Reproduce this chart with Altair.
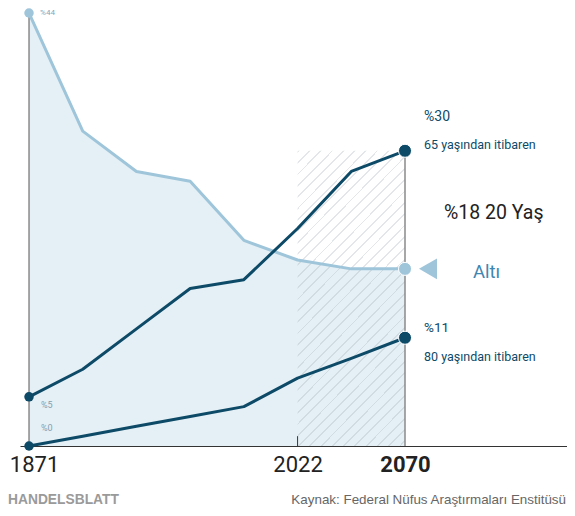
import altair as alt
import pandas as pd

# ---- data ----
idx = [0, 1, 2, 3, 4, 5, 6, 7]
tick_pos = [0, 5, 7]
tick_labels = ["1871", "2022", "2070"]
under20 = [44, 32, 27.9, 26.9, 20.9, 18.9, 18, 18]
over65 = [5, 7.8, 11.9, 16.0, 16.9, 22.1, 27.9, 30]
over80 = [0, 1.0, 2.0, 3.0, 4.0, 6.9, 8.9, 11]
forecast_start, forecast_end = 5, 7

DARK = "#0d4a67"
LIGHT = "#9ec5da"
AREA = "#e5f0f6"

df = pd.DataFrame({"i": idx, "u20": under20, "o65": over65, "o80": over80})
long = pd.concat([
    pd.DataFrame({"i": idx, "v": under20, "s": "u20"}),
    pd.DataFrame({"i": idx, "v": over65, "s": "o65"}),
    pd.DataFrame({"i": idx, "v": over80, "s": "o80"}),
])

xs = alt.Scale(domain=[-0.168, 10.016], nice=False, zero=False)
ys = alt.Scale(domain=[0, 44.51], nice=False, zero=True)

label_expr = " : ".join(
    [f"datum.value == {p} ? '{l}'" for p, l in zip(tick_pos[:-1], tick_labels[:-1])]
) + f" : '{tick_labels[-1]}'"

xaxis = alt.Axis(
    values=tick_pos, labelExpr=label_expr, grid=False, ticks=False,
    domainColor="#333", domainWidth=1, title=None,
    labelFont="Roboto", labelFontSize=22, labelColor="#222",
    labelPadding=8,
    labelOffset={"condition": {"test": f"datum.value == {tick_pos[0]}", "value": 5}, "value": 0},
    labelFontWeight={"condition": {"test": f"datum.value == {tick_pos[-1]}", "value": "bold"}, "value": "normal"},
)

base = alt.Chart(df)

area = base.mark_area(color=AREA, opacity=1).encode(
    x=alt.X("i:Q", scale=xs, axis=xaxis),
    y=alt.Y("u20:Q", scale=ys, axis=None),
)

# hatch via hard-stop gradient (styling only)
w_px, h_px = 108.0, 294.0
period_px = 8.0
stripe_px = 1.3
dn = w_px * (1 + (h_px / w_px) ** 2)
p = period_px * 2 ** 0.5 / dn
s = stripe_px * 2 ** 0.5 / dn
clear = "rgba(255,255,255,0)"
gray = "rgba(150,162,170,0.26)"
stops = []
k = 0
while k * p < 0.5:
    a, b = k * p, k * p + s
    stops += [alt.GradientStop(offset=a, color=clear), alt.GradientStop(offset=a, color=gray),
              alt.GradientStop(offset=b, color=gray), alt.GradientStop(offset=b, color=clear)]
    k += 1
stops.append(alt.GradientStop(offset=1, color=clear))
grad = alt.LinearGradient(gradient="linear", stops=stops, x1=0, y1=0, x2=1, y2=h_px / w_px)

hatch_df = pd.DataFrame({"x1": [forecast_start], "x2": [forecast_end], "y1": [0], "y2": [over65[-1]]})
hatch = alt.Chart(hatch_df).mark_rect(fill=grad, strokeWidth=0).encode(
    x=alt.X("x1:Q", scale=xs), x2="x2:Q", y=alt.Y("y1:Q", scale=ys), y2="y2:Q"
)

rules_df = pd.DataFrame({"x": [0, 7], "y": [0, 0], "y2": [under20[0], over65[-1]]})
rules = alt.Chart(rules_df).mark_rule(color="#8a8a8a", strokeWidth=1.5).encode(
    x=alt.X("x:Q", scale=xs), y=alt.Y("y:Q", scale=ys), y2="y2:Q"
)
tick_df = pd.DataFrame({"x": [forecast_start], "y": [0], "y2": [1.0]})
tick = alt.Chart(tick_df).mark_rule(color="#333", strokeWidth=1).encode(
    x=alt.X("x:Q", scale=xs), y=alt.Y("y:Q", scale=ys), y2="y2:Q"
)

cscale = alt.Scale(domain=["u20", "o65", "o80"], range=[LIGHT, DARK, DARK])

lines = alt.Chart(long).mark_line(strokeWidth=3, strokeJoin="round").encode(
    x=alt.X("i:Q", scale=xs), y=alt.Y("v:Q", scale=ys),
    color=alt.Color("s:N", scale=cscale, legend=None),
    detail="s:N",
)

start = long[long.i == 0]
end = long[long.i == 7]
pts_start = alt.Chart(start).mark_circle(size=90, opacity=1).encode(
    x=alt.X("i:Q", scale=xs), y=alt.Y("v:Q", scale=ys),
    color=alt.Color("s:N", scale=cscale, legend=None),
)
pts_end = alt.Chart(end).mark_circle(size=170, opacity=1, stroke="white", strokeWidth=1).encode(
    x=alt.X("i:Q", scale=xs), y=alt.Y("v:Q", scale=ys),
    color=alt.Color("s:N", scale=cscale, legend=None),
)

tri_df = pd.DataFrame({"x": [7], "y": [under20[-1]]})
tri = alt.Chart(tri_df).mark_point(shape="triangle-left", filled=True, size=430, opacity=1,
                                   color=LIGHT, xOffset=23).encode(
    x=alt.X("x:Q", scale=xs), y=alt.Y("y:Q", scale=ys)
)

FONT = "Roboto"

def label(text, x, y, dx, dy, size, color, weight="normal", align="left"):
    d = pd.DataFrame({"x": [x], "y": [y], "t": [text]})
    return alt.Chart(d).mark_text(align=align, baseline="middle", dx=dx, dy=dy, fontSize=size,
                                  color=color, font=FONT, fontWeight=weight).encode(
        x=alt.X("x:Q", scale=xs), y=alt.Y("y:Q", scale=ys), text="t:N"
    )

labels = [
    label(f"%{under20[0]}", 0, under20[0], 11, 0, 8, "#7fa8bf"),
    label(f"%{over65[0]}", 0, over65[0], 12, 8, 9, "#7fa0b4"),
    label(f"%{over80[0]}", 0, over80[0], 12, -18, 9, "#7fa0b4"),
    label(f"%{over65[-1]}", 7, over65[-1], 19, -34, 14, DARK),
    label("65 yaşından itibaren", 7, over65[-1], 19, -6, 12.5, DARK),
    label(f"%{under20[-1]} 20 Yaş", 7, under20[-1], 39, -56, 19.5, "#222"),
    label("Altı", 7, under20[-1], 68, 3, 18.5, "#3f86b0"),
    label(f"%{over80[-1]}", 7, over80[-1], 19, -10, 13.5, DARK),
    label("80 yaşından itibaren", 7, over80[-1], 19, 19, 12.5, DARK),
]

foot1 = alt.Chart(pd.DataFrame({"t": ["HANDELSBLATT"]})).mark_text(
    align="left", baseline="alphabetic", fontSize=13.8, fontWeight="bold", color="#9a9a9a",
    font="Liberation Sans"
).encode(x=alt.value(-12), y=alt.value(496), text="t:N")
foot2 = alt.Chart(pd.DataFrame({"t": ["Kaynak: Federal Nüfus Araştırmaları Enstitüsü"]})).mark_text(
    align="right", baseline="alphabetic", fontSize=13.4, color="#666", font="Liberation Sans"
).encode(x=alt.value(546), y=alt.value(496), text="t:N")

chart = alt.layer(
    area, hatch, rules, tick, lines, pts_start, pts_end, tri, *labels, foot1, foot2
).properties(
    width=547, height=438,
    autosize=alt.AutoSizeParams(type="none"),
    padding={"left": 12, "top": 0, "right": 0, "bottom": 62},
).configure_view(stroke=None)

chart.save("out.html", embed_options={"renderer": "svg", "actions": False})
